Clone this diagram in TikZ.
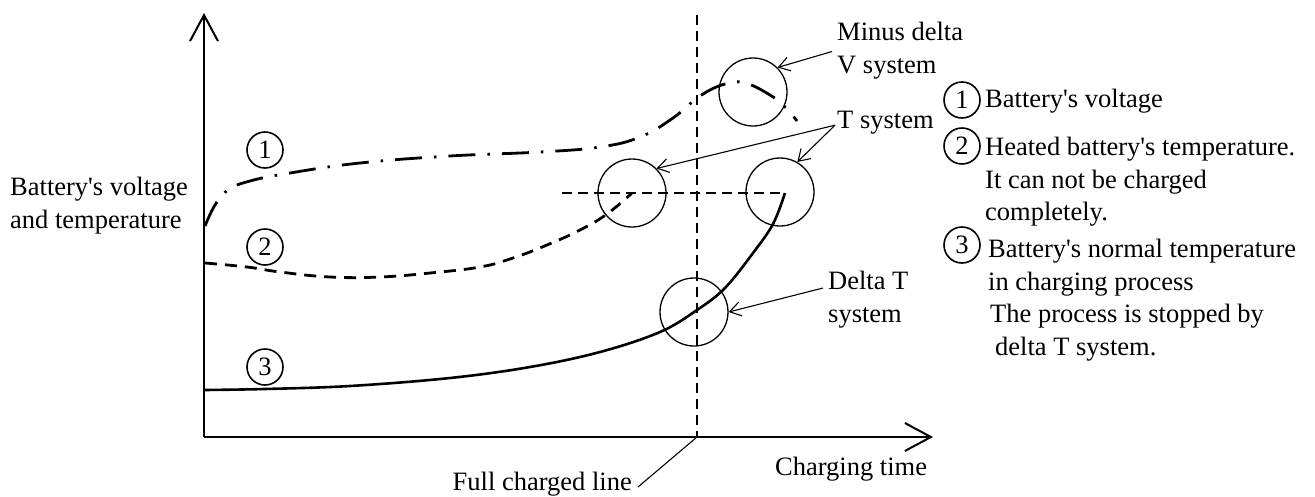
\documentclass[tikz,border=0pt]{standalone}
\usepackage{fontspec}
\setmainfont{Liberation Serif}[Ligatures=TeXOff]
\usetikzlibrary{arrows.meta}

\tikzset{
  ring/.style={circle,draw,line width=1.3pt,minimum size=68pt,inner sep=0pt},
  num/.style={circle,draw,line width=1.6pt,minimum size=36pt,inner sep=0pt},
  lbl/.style={inner sep=0pt,align=left},
  pointer/.style={line width=1.1pt,-{Straight Barb[length=11pt,width=14pt]}},
  axis/.style={line width=2pt,-{Straight Barb[length=26pt,width=28pt,line width=2pt]}},
  guide/.style={line width=1.2pt,dash pattern=on 10pt off 6pt},
}

\begin{document}
\begin{tikzpicture}[x=1pt,y=-1pt,line join=round,font=\fontsize{26.5}{32.5}\selectfont]
\useasboundingbox (0,0) rectangle (1315,496);

% axes
\coordinate (o) at (204,437);
\coordinate (full) at (697,437);
\draw[axis] (o) -- (204,13);
\draw[axis] (o) -- (933,437);

% full charge line and T level
\coordinate (top3) at (785,193);
\draw[guide] (697,15) -- (full);
\draw[guide] (562,193) -- (top3);

% curve 1: voltage
\draw[line width=2.8pt,dash pattern=on 27pt off 12pt on 2.5pt off 12pt]
  plot[smooth,tension=0.7] coordinates {(205,226) (215,205) (228,190) (250,181)
  (290,173) (360,163) (450,156) (540,152) (600,147) (640,137) (673,118)
  (700,96) (725,84) (745,83) (770,95) (786,108) (797,121)};
% curve 2: heated battery
\draw[line width=2.8pt,dash pattern=on 12pt off 8pt]
  plot[smooth,tension=0.7] coordinates {(205,263) (247,267) (280,272) (330,277)
  (380,277) (430,273) (480,267) (513,258) (547,245) (580,230) (607,214) (632,193)};
% curve 3: normal temperature
\draw[line width=2.6pt]
  plot[smooth,tension=0.6] coordinates {(204,390) (265,389) (350,386) (450,378)
  (530,367) (600,352) (660,332) (697,310) (725,288) (753,253) (773,224) (top3)};

% circled curve numbers
\node[num] (n1) at (265,150) {1};
\node[num] (n2) at (265,247) {2};
\node[num] (n3) at (265,367) {3};

% detection circles
\node[ring] (cV) at (753,92) {};
\node[ring] (cTa) at (632,193) {};
\node[ring] (cTb) at (780,192) {};
\node[ring] (cdT) at (694,312) {};

% labels
\node[lbl,anchor=north west] (ylab) at (10,177) {Battery's voltage\\and temperature};
\node[lbl,anchor=north west] (mdv) at (837,22) {Minus delta\\V system};
\node[lbl,anchor=base west] (tsys) at (837,128) {T system};
\node[lbl,anchor=north west] (dT) at (828,271) {Delta T\\system};
\node[lbl,anchor=base east] (fcl) at (632,490) {Full charged line};
\node[lbl,anchor=base west] (xlab) at (775,475) {Charging time};

% pointers
\draw[pointer] ([xshift=-5pt,yshift=-1pt]mdv.west) -- (cV.45);
\draw[pointer] ([xshift=-2pt,yshift=-3pt]tsys.west) -- (cTa.45);
\draw[pointer] ([xshift=-2pt,yshift=-3pt]tsys.west) -- (cTb.60);
\draw[pointer] ([xshift=-5pt,yshift=-17pt]dT.north west) -- (cdT.east);
\draw[line width=1.1pt] ([xshift=6pt,yshift=3pt]fcl.base east) -- (full);

% legend
\node[num] (k1) at (962,100) {1};
\node[num] (k2) at (962,146) {2};
\node[num] (k3) at (962,245) {3};
\node[lbl,anchor=base west] (t1) at (985,107) {Battery's voltage};
\node[lbl,anchor=north west] (t2) at (985,137) {Heated battery's temperature.\\It can not be charged\\completely.};
\node[lbl,anchor=north west] (t3) at (988,239) {Battery's normal temperature\\in charging process\\\hspace{2pt}The process is stopped by\\\hspace{7pt}delta T system.};
\end{tikzpicture}
\end{document}
